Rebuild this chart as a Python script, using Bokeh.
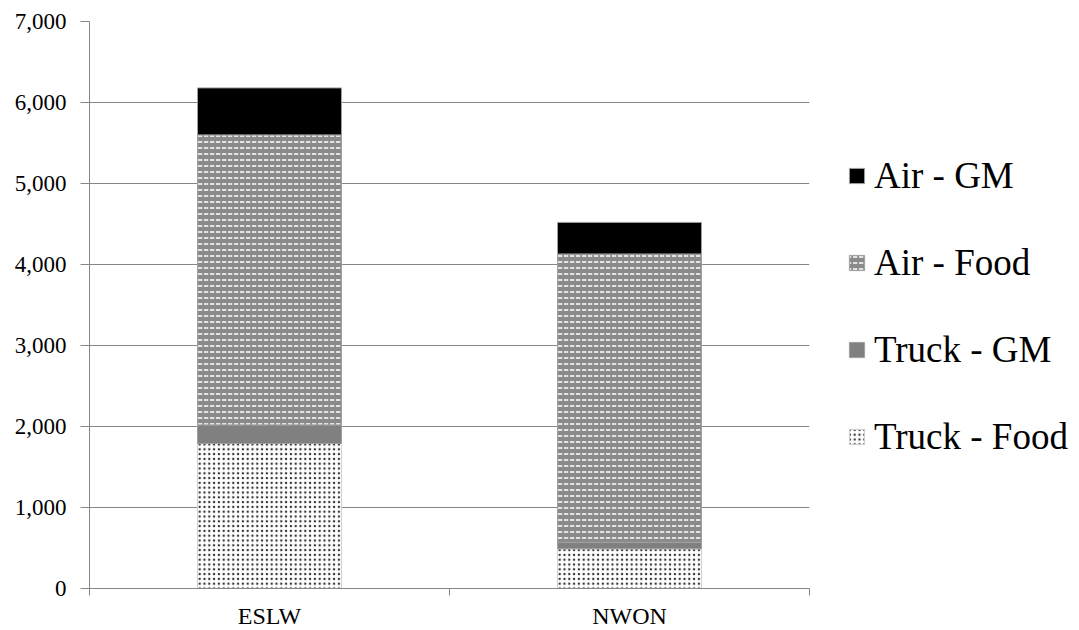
from bokeh.plotting import figure
from bokeh.models import (Range1d, FixedTicker, NumeralTickFormatter, Legend,
                          LegendItem, ColumnDataSource)
from bokeh.embed import file_html
from bokeh.resources import INLINE

# Shipments by site, split by mode and cargo type
sites = ["ESLW", "NWON"]
series = ["Truck - Food", "Truck - GM", "Air - Food", "Air - GM"]
truck_food = [1790, 490]
truck_gm = [230, 80]
air_food = [3580, 3560]
air_gm = [580, 390]
y_ticks = [0, 1000, 2000, 3000, 4000, 5000, 6000, 7000]

# each site occupies one unit on the x scale; bars sit in the middle of it
centers = [i + 0.5 for i in range(len(sites))]
bounds = [float(i) for i in range(len(sites) + 1)]

source = ColumnDataSource(data={
    "x": centers,
    "Truck - Food": truck_food,
    "Truck - GM": truck_gm,
    "Air - Food": air_food,
    "Air - GM": air_gm,
})

AXIS_GREY = "#868686"
SERIF = "Liberation Serif"

p = figure(frame_width=720, frame_height=567, output_backend="svg",
           toolbar_location=None,
           x_range=Range1d(0, len(sites)), y_range=Range1d(0, 7000),
           min_border_left=89, min_border_top=21, min_border_bottom=42,
           min_border_right=0)
p.outline_line_color = None
p.background_fill_color = "white"

renderers = p.vbar_stack(
    series, x="x", width=0.4, source=source,
    fill_color=["white", "#808080", "#8a8a8a", "black"],
    hatch_pattern=["dot", None, "horizontal_dash", None],
    hatch_color=["#333333", None, "white", None],
    hatch_scale=[4.8, 12, 6, 12],
    hatch_weight=[1.0, 1.0, 1.5, 1.0],
    line_color=["#d0d0d0", "#a0a0a0", "#a0a0a0", "#a0a0a0"],
    line_width=1,
)

# y axis
p.yaxis.ticker = FixedTicker(ticks=y_ticks)
p.yaxis.formatter = NumeralTickFormatter(format="0,0")
p.yaxis.major_label_text_font = SERIF
p.yaxis.major_label_text_font_size = "23px"
p.yaxis.major_label_text_color = "black"
p.yaxis.major_tick_out = 9
p.yaxis.major_tick_in = 0
p.yaxis.minor_tick_line_color = None
p.yaxis.major_tick_line_color = AXIS_GREY
p.yaxis.axis_line_color = AXIS_GREY
p.yaxis.major_label_standoff = 14

# x axis: labels at bar centres, tick marks at category boundaries
p.xaxis.ticker = FixedTicker(ticks=centers, minor_ticks=bounds)
p.xaxis.major_label_overrides = {c: s for c, s in zip(centers, sites)}
p.xaxis.major_label_text_font = SERIF
p.xaxis.major_label_text_font_size = "24px"
p.xaxis.major_label_text_color = "black"
p.xaxis.major_tick_out = 0
p.xaxis.major_tick_in = 0
p.xaxis.minor_tick_out = 7
p.xaxis.minor_tick_in = 0
p.xaxis.minor_tick_line_color = AXIS_GREY
p.xaxis.axis_line_color = AXIS_GREY
p.xaxis.major_label_standoff = 7

p.xgrid.grid_line_color = None
p.ygrid.grid_line_color = AXIS_GREY
p.ygrid.ticker = FixedTicker(ticks=y_ticks)

# legend in the right-hand panel
items = [LegendItem(label=name, renderers=[r])
         for name, r in reversed(list(zip(series, renderers)))]
legend = Legend(items=items, location=(38, 130),
                label_text_font=SERIF, label_text_font_size="37px",
                label_text_color="black",
                glyph_width=19, glyph_height=19, label_height=42,
                label_width=243, label_standoff=8, spacing=44,
                border_line_color=None, background_fill_alpha=0,
                margin=0, padding=0)
p.add_layout(legend, "right")

open("out.html", "w").write(file_html(p, INLINE))
